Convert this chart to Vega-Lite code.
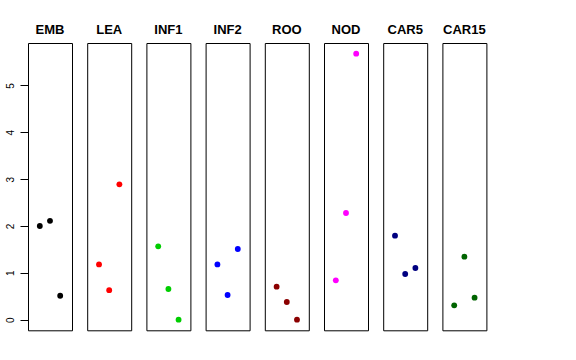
{
  "$schema": "https://vega.github.io/schema/vega-lite/v6.json",
  "padding": {"left": 4, "top": 24, "right": 5, "bottom": 5},
  "background": "white",
  "bounds": "flush",
  "data": {"values": [
    {"panel": "EMB", "x": 1, "y": 2.0},
    {"panel": "EMB", "x": 2, "y": 2.11},
    {"panel": "EMB", "x": 3, "y": 0.51},
    {"panel": "LEA", "x": 1, "y": 1.18},
    {"panel": "LEA", "x": 2, "y": 0.63},
    {"panel": "LEA", "x": 3, "y": 2.89},
    {"panel": "INF1", "x": 1, "y": 1.565},
    {"panel": "INF1", "x": 2, "y": 0.655},
    {"panel": "INF1", "x": 3, "y": 0.0},
    {"panel": "INF2", "x": 1, "y": 1.18},
    {"panel": "INF2", "x": 2, "y": 0.527},
    {"panel": "INF2", "x": 3, "y": 1.508},
    {"panel": "ROO", "x": 1, "y": 0.704},
    {"panel": "ROO", "x": 2, "y": 0.377},
    {"panel": "ROO", "x": 3, "y": 0.0},
    {"panel": "NOD", "x": 1, "y": 0.839},
    {"panel": "NOD", "x": 2, "y": 2.277},
    {"panel": "NOD", "x": 3, "y": 5.68},
    {"panel": "CAR5", "x": 1, "y": 1.793},
    {"panel": "CAR5", "x": 2, "y": 0.975},
    {"panel": "CAR5", "x": 3, "y": 1.103},
    {"panel": "CAR15", "x": 1, "y": 0.306},
    {"panel": "CAR15", "x": 2, "y": 1.345},
    {"panel": "CAR15", "x": 3, "y": 0.47}
  ]},
  "facet": {
    "column": {
      "field": "panel",
      "type": "nominal",
      "sort": ["EMB", "LEA", "INF1", "INF2", "ROO", "NOD", "CAR5", "CAR15"],
      "title": null,
      "header": {
        "labelFont": "Liberation Sans",
        "labelFontSize": 13,
        "labelFontWeight": "bold",
        "labelColor": "black",
        "labelPadding": 6
      }
    }
  },
  "spacing": 15.2,
  "spec": {
    "width": 44,
    "height": 287.3,
    "mark": {"type": "circle", "size": 34, "opacity": 1},
    "encoding": {
      "x": {"field": "x", "type": "quantitative", "scale": {"domain": [-0.16, 4.16], "nice": false, "zero": false}, "axis": null},
      "y": {
        "field": "y", "type": "quantitative",
        "scale": {"domain": [-0.227, 5.907], "nice": false, "zero": false},
        "axis": {
          "title": null, "values": [0, 1, 2, 3, 4, 5], "grid": false, "domain": false,
          "tickSize": 8, "tickColor": "black", "labelPadding": 7, "labelAngle": -90,
          "labelAlign": "center", "labelBaseline": "alphabetic",
          "labelFont": "Liberation Sans", "labelFontSize": 10, "labelColor": "black",
          "minExtent": 24, "maxExtent": 24
        }
      },
      "color": {
        "field": "panel", "type": "nominal", "legend": null,
        "scale": {
          "domain": ["EMB", "LEA", "INF1", "INF2", "ROO", "NOD", "CAR5", "CAR15"],
          "range": ["#000000", "#FF0000", "#00CD00", "#0000FF", "#8B0000", "#FF00FF", "#000080", "#006400"]
        }
      }
    }
  },
  "config": {
    "view": {"stroke": "black", "strokeWidth": 1}
  }
}
